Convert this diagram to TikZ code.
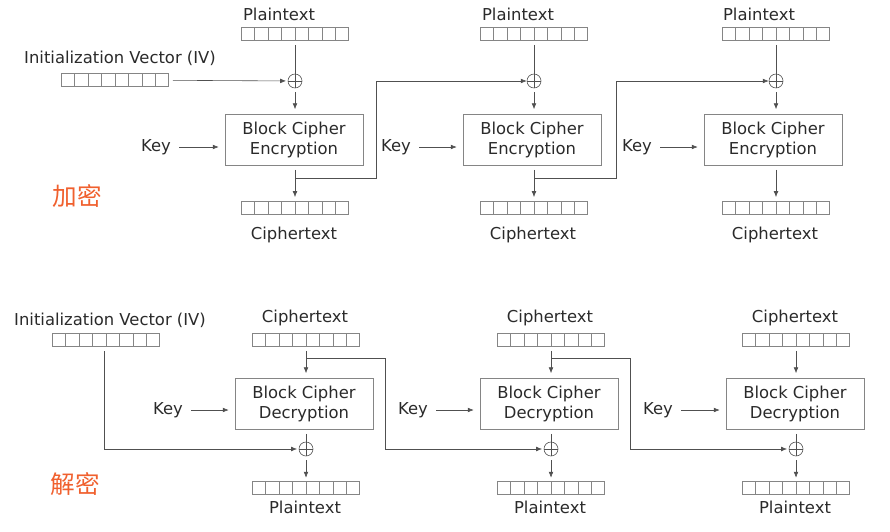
\documentclass[tikz,border=0pt]{standalone}
\usepackage{fontspec}
\setmainfont{DejaVu Sans}
\newfontfamily\cjk{Noto Sans CJK SC}
\usetikzlibrary{arrows.meta}
\usetikzlibrary{calc}

\definecolor{wiregray}{HTML}{505050}
\definecolor{boxgray}{HTML}{858585}
\definecolor{textgray}{HTML}{2A2A2A}
\definecolor{modered}{HTML}{F0602E}

% cell dividers of a register
\newcommand{\cells}[1]{%
	\foreach \i in {1,...,7}{
		\draw[boxgray] ($(#1.south west)!\i/8!(#1.south east)$) -- ($(#1.north west)!\i/8!(#1.north east)$);}}

\begin{document}
\begin{tikzpicture}[x=0.03cm,y=-0.03cm,>={Latex[length=5pt,width=4pt]},
	line width=0.5pt,
	font=\fontsize{14}{17}\selectfont,
	every node/.style = {text=textgray},
	reg/.style = {draw=boxgray,
		minimum width=3.21cm,
		minimum height=0.4cm,
		inner sep=0pt},
	cipher/.style = {draw=boxgray,
		minimum width=4.14cm,
		minimum height=1.53cm,
		align=center},
	xor/.style = {circle,
		draw=wiregray,
		minimum size=0.42cm,
		inner sep=0pt,
		path picture={\draw[wiregray] (path picture bounding box.north) -- (path picture bounding box.south)
			(path picture bounding box.west) -- (path picture bounding box.east);}},
	wire/.style = {draw=wiregray,
		shorten <=0.12cm},
	mode/.style = {font=\cjk\fontsize{21}{24}\selectfont, text=modered}]
	
	\useasboundingbox (0,0) rectangle (890,532);
	
	% Encryption
	\node (ivE) at (120,58) {Initialization Vector (IV)};
	\node[reg] (ivregE) at (115,80) {};
	\cells{ivregE}
	
	\node (ptE1) at (279,14) {Plaintext};
	\node (ptE2) at (518,14) {Plaintext};
	\node (ptE3) at (759,14) {Plaintext};
	\node[reg] (pinE1) at (295,34) {};
	\node[reg] (pinE2) at (534,34) {};
	\node[reg] (pinE3) at (776,34) {};
	
	\node[xor] (xorE1) at (295,81) {};
	\node[xor] (xorE2) at (534,81) {};
	\node[xor] (xorE3) at (776,81) {};
	
	\node[cipher] (enc1) at (294,140) {Block Cipher\\Encryption};
	\node[cipher] (enc2) at (532,140) {Block Cipher\\Encryption};
	\node[cipher] (enc3) at (773,140) {Block Cipher\\Encryption};
	
	\node (keyE1) at (156,147) {Key};
	\node (keyE2) at (396,147) {Key};
	\node (keyE3) at (637,147) {Key};
	
	\node[reg] (coutE1) at (295,208) {};
	\node[reg] (coutE2) at (534,208) {};
	\node[reg] (coutE3) at (776,208) {};
	\node (ctE1) at (294,235) {Ciphertext};
	\node (ctE2) at (533,235) {Ciphertext};
	\node (ctE3) at (775,235) {Ciphertext};
	
	\foreach \n in {pinE1,pinE2,pinE3,coutE1,coutE2,coutE3}{
		\cells{\n}}
	
	\foreach \k in {1,2,3}{
		\draw[wire] (pinE\k) -- (xorE\k);
		\draw[wire,->,shorten >=0.15cm] (xorE\k) -- (xorE\k |- enc\k.north);
		\draw[wire,->,shorten >=0.12cm] (xorE\k |- enc\k.south) -- (coutE\k);
		\draw[wire,->,shorten >=0.18cm] (keyE\k) -- (keyE\k -| enc\k.west);
	}
	\draw[wire,->,shorten >=0.05cm] (ivregE) -- (xorE1);
	
	% chaining
	\coordinate (fbE1) at (295,178);
	\coordinate (fbE2) at (534,178);
	\coordinate (upE1) at (376,81);
	\coordinate (upE2) at (616,81);
	\draw[wiregray,->] (fbE1) -| (upE1) -- (xorE2);
	\draw[wiregray,->] (fbE2) -| (upE2) -- (xorE3);
	
	\node[mode] (enclab) at (77,196) {加密};
	
	% Decryption
	\node (ivD) at (110,320) {Initialization Vector (IV)};
	\node[reg] (ivregD) at (106,340) {};
	\cells{ivregD}
	
	\node (ctD1) at (305,318) {Ciphertext};
	\node (ctD2) at (550,318) {Ciphertext};
	\node (ctD3) at (795,318) {Ciphertext};
	\node[reg] (cinD1) at (306,340) {};
	\node[reg] (cinD2) at (551,340) {};
	\node[reg] (cinD3) at (796,340) {};
	
	\node[cipher] (dec1) at (304,404) {Block Cipher\\Decryption};
	\node[cipher] (dec2) at (549,404) {Block Cipher\\Decryption};
	\node[cipher] (dec3) at (795,404) {Block Cipher\\Decryption};
	
	\node (keyD1) at (168,410) {Key};
	\node (keyD2) at (413,410) {Key};
	\node (keyD3) at (658,410) {Key};
	
	\node[xor] (xorD1) at (306,449) {};
	\node[xor] (xorD2) at (551,449) {};
	\node[xor] (xorD3) at (796,449) {};
	
	\node[reg] (poutD1) at (306,488) {};
	\node[reg] (poutD2) at (551,488) {};
	\node[reg] (poutD3) at (796,488) {};
	\node (ptD1) at (305,507) {Plaintext};
	\node (ptD2) at (550,507) {Plaintext};
	\node (ptD3) at (795,507) {Plaintext};
	
	\foreach \n in {cinD1,cinD2,cinD3,poutD1,poutD2,poutD3}{
		\cells{\n}}
	
	\foreach \k in {1,2,3}{
		\draw[wire,->,shorten >=0.15cm] (cinD\k) -- (cinD\k |- dec\k.north);
		\draw[wire] (cinD\k |- dec\k.south) -- (xorD\k);
		\draw[wire,->,shorten >=0.1cm] (xorD\k) -- (poutD\k);
		\draw[wire,->,shorten >=0.18cm] (keyD\k) -- (keyD\k -| dec\k.west);
	}
	
	% chaining
	\coordinate (ivdown) at (104,347);
	\draw[wire,->,shorten >=0.05cm] (ivdown) |- (xorD1);
	\coordinate (fbD1) at (306,358);
	\coordinate (fbD2) at (551,358);
	\coordinate (dnD1) at (385,449);
	\coordinate (dnD2) at (630,449);
	\draw[wiregray,->,shorten >=0.05cm] (fbD1) -| (dnD1) -- (xorD2);
	\draw[wiregray,->,shorten >=0.05cm] (fbD2) -| (dnD2) -- (xorD3);
	
	\node[mode] (declab) at (75,484) {解密};
	
\end{tikzpicture}
\end{document}
